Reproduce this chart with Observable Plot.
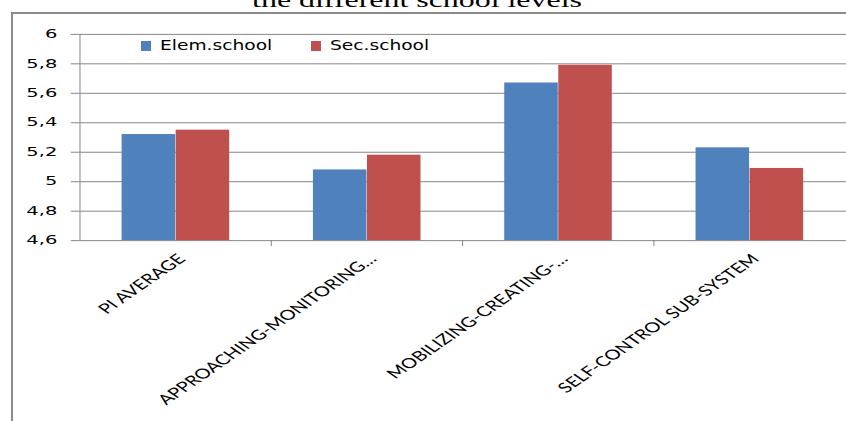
<!DOCTYPE html>
<html>
<head>
<meta charset="utf-8">
<script src="https://cdn.jsdelivr.net/npm/d3@7"></script>
<script src="https://cdn.jsdelivr.net/npm/@observablehq/plot@0.6"></script>
<style>
  html, body { margin: 0; padding: 0; overflow: hidden; background: #fff; width: 846px; height: 421px; }
  #wrap { position: relative; width: 846px; height: 421px; overflow: hidden; }
  #frame { position: absolute; left: 11px; top: 12px; width: 900px; height: 500px;
           border-left: 2px solid #8a8a8a; border-top: 2px solid #8a8a8a; }
  #title { position: absolute; left: 0; top: -11.4px; width: 834px; text-align: center;
           font-family: "Liberation Serif", serif; font-size: 22px; line-height: 22px;
           transform: scaleX(1.45); transform-origin: 417px 0; white-space: nowrap; color: #000; }
  #chart { position: absolute; left: 0; top: 0; }
  .lg-sw { position: absolute; width: 10px; height: 10px; top: 41px; }
  .lg-tx { position: absolute; top: 38.6px; font-family: "DejaVu Sans", sans-serif; font-size: 13.5px;
           line-height: 13.5px; transform: scaleX(1.38); transform-origin: 0 0; white-space: nowrap; color: #000; }
</style>
</head>
<body>
<div id="wrap">
  <div id="frame"></div>
  <div id="title">the different school levels</div>
  <div id="chart"></div>
  <div id="legend"></div>
</div>
<script>
// Sub-system scores by school level
const categories = ["PI AVERAGE", "APPROACHING-MONITORING…", "MOBILIZING-CREATING-…", "SELF-CONTROL SUB-SYSTEM"];
const series = ["Elem.school", "Sec.school"];
const elemValues = [5.32, 5.08, 5.67, 5.23];
const secValues = [5.35, 5.18, 5.79, 5.09];
const yTicks = [4.6, 4.8, 5, 5.2, 5.4, 5.6, 5.8, 6];
const colors = ["#4F81BD", "#C0504D"];

const rows = categories.flatMap((c, i) => [
  {category: c, school: series[0], value: elemValues[i]},
  {category: c, school: series[1], value: secValues[i]}
]);

const width = 849, height = 421;
const marginLeft = 79, marginRight = 0, marginTop = 34, marginBottom = 180;
const step = (width - marginLeft - marginRight) / categories.length;
const gapWidth = 1.55;                       // gap between groups, relative to one bar
const barW = step / (series.length + gapWidth);
const halfGap = barW * gapWidth / 2;
const gray = "#868686";
const yMin = yTicks[0];
const comma = d => String(d).replace(".", ",");

const chart = Plot.plot({
  width, height, marginLeft, marginRight, marginTop, marginBottom,
  style: {background: "transparent", overflow: "visible"},
  x: {domain: categories, paddingInner: 0, paddingOuter: 0, axis: null},
  y: {domain: [yTicks[0], yTicks[yTicks.length - 1]], axis: null},
  color: {domain: series, range: colors},
  marks: [
    Plot.gridY(yTicks, {stroke: gray, strokeOpacity: 1}),
    Plot.ruleX([categories[0]], {dx: -step / 2, stroke: gray}),
    Plot.axisY({ticks: yTicks, tickSize: 8, tickPadding: 14, tickFormat: comma, stroke: gray,
                fill: "#000", fontSize: 11.5, fontFamily: "DejaVu Sans", label: null}),
    Plot.axisX({ticks: categories.slice(1), tickSize: 6, dx: -step / 2, stroke: gray,
                fill: "none", label: null}),
    Plot.axisX({tickSize: 0, tickPadding: 16, tickRotate: -45, dx: 6, fill: "#000",
                fontSize: 14, fontFamily: "Lato", label: null}),
    Plot.barY(rows.filter(d => d.school === series[0]), {
      x: "category", y1: yMin, y2: "value", fill: "school",
      insetLeft: halfGap, insetRight: step - halfGap - barW
    }),
    Plot.barY(rows.filter(d => d.school === series[1]), {
      x: "category", y1: yMin, y2: "value", fill: "school",
      insetLeft: halfGap + barW, insetRight: halfGap
    })
  ]
});

// Stretch text horizontally, keeping each label's anchor in place
function stretch(nodes, k) {
  nodes.each(function() {
    const t = this.getAttribute("transform") || "";
    if (/translate\(/.test(t)) {
      this.setAttribute("transform", t.replace(/(translate\([^)]*\))/, `$1 scale(${k},1)`));
    } else {
      const x = this.getAttribute("x") || 0, y = this.getAttribute("y") || 0;
      this.removeAttribute("x"); this.removeAttribute("y");
      this.setAttribute("transform", `translate(${x},${y}) scale(${k},1) ${t}`);
    }
  });
}
const svg = d3.select(chart);
stretch(svg.selectAll('g[aria-label="y-axis tick label"] text'), 1.7);
stretch(svg.selectAll('g[aria-label="x-axis tick label"] text'), 1.45);

document.getElementById("chart").appendChild(chart);

// Legend inside the plot area
const legend = d3.select("#legend");
const legendLeft = [141, 311];
series.forEach((s, i) => {
  legend.append("div").attr("class", "lg-sw")
    .style("left", legendLeft[i] + "px").style("background", colors[i]);
  legend.append("div").attr("class", "lg-tx")
    .style("left", (legendLeft[i] + 19) + "px").text(s);
});
</script>
</body>
</html>
